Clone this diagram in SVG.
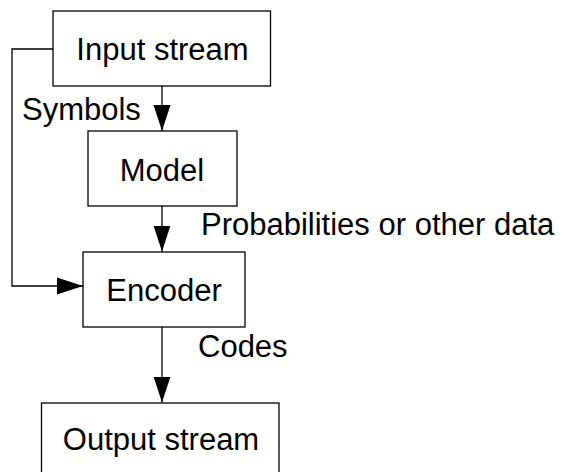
<svg xmlns="http://www.w3.org/2000/svg" width="564" height="472" viewBox="0 0 564 472">
<style>
.box{fill:#fff;stroke:#000;stroke-width:1.3}
.lbl{font-family:"Liberation Sans",Arial,sans-serif;font-size:31px;fill:#000}
.mid{text-anchor:middle}
.con{fill:none;stroke:#000;stroke-width:1.3}
</style>
<defs>
<marker id="ah" markerUnits="userSpaceOnUse" markerWidth="26" markerHeight="18" refX="26" refY="8.5" orient="auto" viewBox="0 0 26 17">
<path d="M0,0 L26,8.5 L0,17 z" fill="#000"/>
</marker>
</defs>
<rect width="564" height="472" fill="#fff"/>
<g id="connectors">
<line class="con" x1="162" y1="86" x2="162" y2="131" marker-end="url(#ah)"/>
<line class="con" x1="162" y1="206" x2="162" y2="251.5" marker-end="url(#ah)"/>
<line class="con" x1="162" y1="327" x2="162" y2="402.5" marker-end="url(#ah)"/>
<polyline class="con" points="53,49 12,49 12,286 83,286" marker-end="url(#ah)"/>
<text class="lbl" x="22" y="120">Symbols</text>
<text class="lbl" x="201" y="235">Probabilities or other data</text>
<text class="lbl" x="198" y="357">Codes</text>
</g>
<g id="input">
<rect class="box" x="53" y="11" width="217.5" height="75"/>
<text class="lbl mid" x="162.5" y="59.5">Input stream</text>
</g>
<g id="model">
<rect class="box" x="88" y="131" width="149" height="75"/>
<text class="lbl mid" x="162" y="181">Model</text>
</g>
<g id="encoder">
<rect class="box" x="83" y="252" width="162" height="75"/>
<text class="lbl mid" x="164" y="300.5">Encoder</text>
</g>
<g id="output">
<rect class="box" x="41.5" y="403" width="237.5" height="75"/>
<text class="lbl mid" x="161" y="450">Output stream</text>
</g>
</svg>
